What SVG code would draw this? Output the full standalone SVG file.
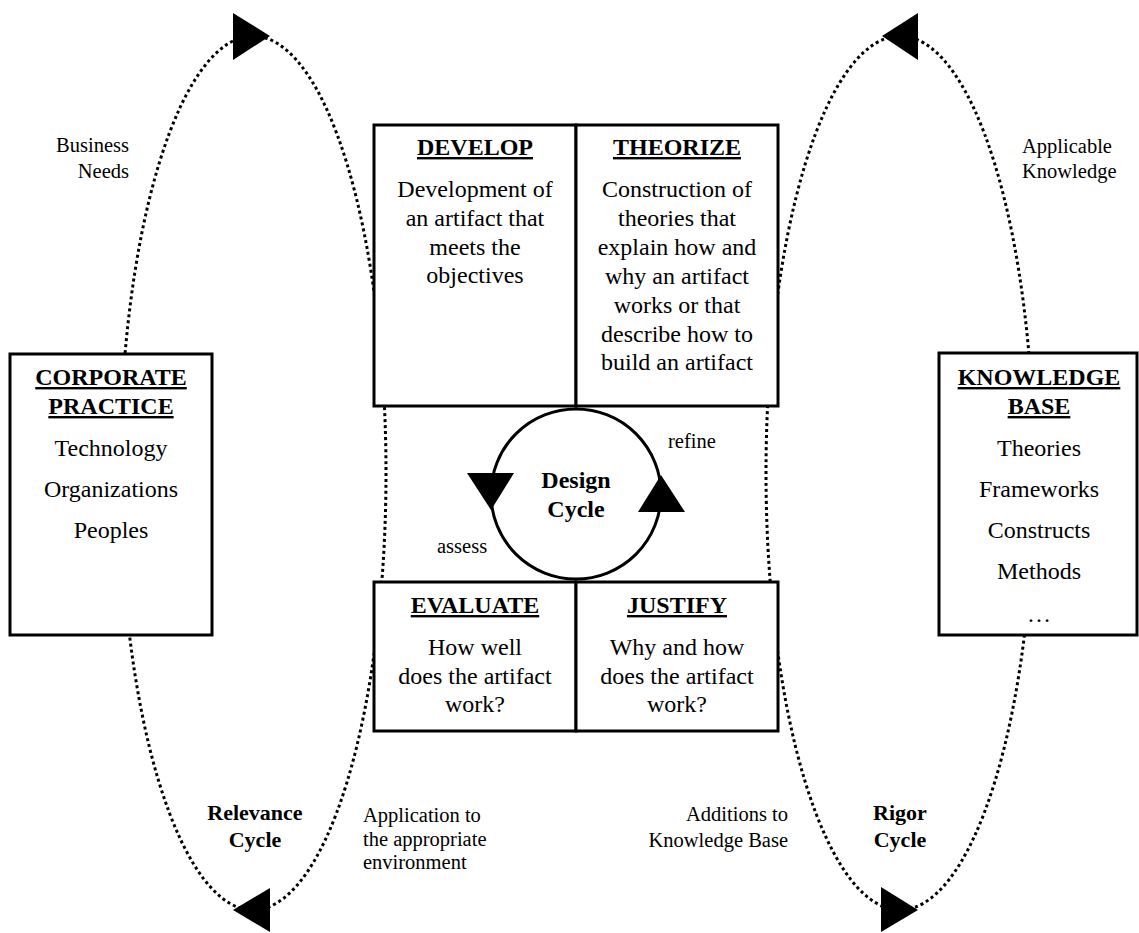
<svg xmlns="http://www.w3.org/2000/svg" width="1139" height="933" viewBox="0 0 1139 933">
  <style>
    .box { fill: #ffffff; stroke: #000000; stroke-width: 3; }
    .loop { fill: none; stroke: #000000; stroke-width: 3; stroke-dasharray: 3 3; }
    .head { fill: #000000; stroke: none; }
    text { font-family: "Liberation Serif", "Times New Roman", serif; fill: #000000; }
    .title { font-size: 24px; font-weight: bold; text-anchor: middle; text-decoration: underline; }
    .bold { font-size: 24px; font-weight: bold; text-anchor: middle; }
    .body { font-size: 24px; text-anchor: middle; }
    .lbl { font-size: 20.5px; }
    .cyc { font-size: 22px; font-weight: bold; text-anchor: middle; }
  </style>

  <!-- relevance and rigor loops -->
  <g id="connectors">
    <ellipse class="loop" cx="253" cy="473" rx="133" ry="437"/>
    <ellipse class="loop" cx="900" cy="473" rx="134" ry="437"/>
    <polygon class="head" points="233,13 233,60 270,36"/>
    <polygon class="head" points="270,888 270,932 233,910"/>
    <polygon class="head" points="918,13 918,60 882,36"/>
    <polygon class="head" points="881,887 881,932 918,910"/>
  </g>

  <g id="corporate-practice">
    <rect class="box" x="10" y="354" width="202" height="281"/>
    <text class="title" x="111" y="385">CORPORATE</text>
    <text class="title" x="111" y="414">PRACTICE</text>
    <text class="body" x="111" y="456">Technology</text>
    <text class="body" x="111" y="497">Organizations</text>
    <text class="body" x="111" y="538">Peoples</text>
  </g>

  <g id="knowledge-base">
    <rect class="box" x="939" y="353" width="198" height="282"/>
    <text class="title" x="1039" y="385">KNOWLEDGE</text>
    <text class="title" x="1039" y="414">BASE</text>
    <text class="body" x="1039" y="456">Theories</text>
    <text class="body" x="1039" y="497">Frameworks</text>
    <text class="body" x="1039" y="538">Constructs</text>
    <text class="body" x="1039" y="579">Methods</text>
    <text class="body" x="1039" y="622">…</text>
  </g>

  <g id="develop">
    <rect class="box" x="374" y="125" width="202" height="281"/>
    <text class="title" x="475" y="155">DEVELOP</text>
    <text class="body" x="475" y="197">Development of</text>
    <text class="body" x="475" y="226">an artifact  that</text>
    <text class="body" x="475" y="255">meets the</text>
    <text class="body" x="475" y="283">objectives</text>
  </g>

  <g id="theorize">
    <rect class="box" x="576" y="125" width="202" height="281"/>
    <text class="title" x="677" y="155">THEORIZE</text>
    <text class="body" x="677" y="197">Construction of</text>
    <text class="body" x="677" y="226">theories that</text>
    <text class="body" x="677" y="255">explain how and</text>
    <text class="body" x="677" y="284">why an artifact</text>
    <text class="body" x="677" y="313">works or that</text>
    <text class="body" x="677" y="342">describe how to</text>
    <text class="body" x="677" y="370">build an artifact</text>
  </g>

  <g id="evaluate">
    <rect class="box" x="374" y="582" width="202" height="149"/>
    <text class="title" x="475" y="613">EVALUATE</text>
    <text class="body" x="475" y="655">How well</text>
    <text class="body" x="475" y="684">does the artifact</text>
    <text class="body" x="475" y="712">work?</text>
  </g>

  <g id="justify">
    <rect class="box" x="576" y="582" width="202" height="149"/>
    <text class="title" x="677" y="613">JUSTIFY</text>
    <text class="body" x="677" y="655">Why and how</text>
    <text class="body" x="677" y="684">does the artifact</text>
    <text class="body" x="677" y="712">work?</text>
  </g>

  <g id="design-cycle">
    <circle cx="576" cy="494" r="85" fill="none" stroke="#000000" stroke-width="3"/>
    <polygon class="head" points="467,473 514,473 491,510"/>
    <polygon class="head" points="638,512 685,512 661,475"/>
    <text class="bold" x="576" y="488">Design</text>
    <text class="bold" x="576" y="517">Cycle</text>
    <text class="lbl" x="668" y="448">refine</text>
    <text class="lbl" x="437" y="553">assess</text>
  </g>

  <g id="loop-labels">
    <text class="lbl" x="129" y="152" text-anchor="end">Business</text>
    <text class="lbl" x="129" y="178" text-anchor="end">Needs</text>
    <text class="lbl" x="1022" y="153">Applicable</text>
    <text class="lbl" x="1022" y="178">Knowledge</text>
    <text class="lbl" x="363" y="822" font-size="20px">Application to</text>
    <text class="lbl" x="363" y="846" font-size="20px">the appropriate</text>
    <text class="lbl" x="363" y="869" font-size="20px">environment</text>
    <text class="lbl" x="788" y="821" text-anchor="end">Additions to</text>
    <text class="lbl" x="788" y="847" text-anchor="end">Knowledge Base</text>
    <text class="cyc" x="255" y="820">Relevance</text>
    <text class="cyc" x="255" y="847">Cycle</text>
    <text class="cyc" x="900" y="820">Rigor</text>
    <text class="cyc" x="900" y="847">Cycle</text>
  </g>
</svg>
